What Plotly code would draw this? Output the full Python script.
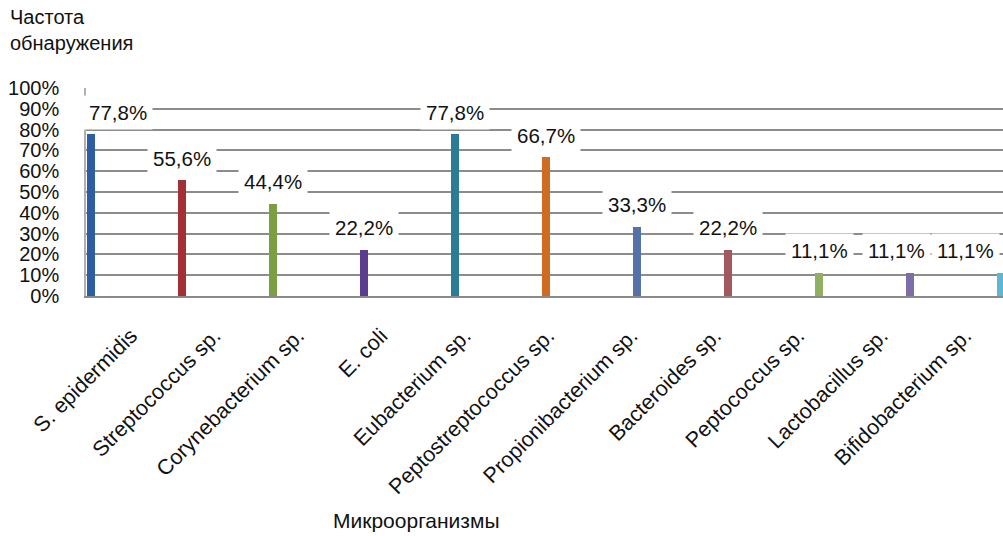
import plotly.graph_objects as go

# Detection frequency of microorganisms
organisms = [
    "S. epidermidis", "Streptococcus sp.", "Corynebacterium sp.", "E. coli",
    "Eubacterium sp.", "Peptostreptococcus sp.", "Propionibacterium sp.",
    "Bacteroides sp.", "Peptococcus sp.", "Lactobacillus sp.", "Bifidobacterium sp.",
]
frequency = [0.778, 0.556, 0.444, 0.222, 0.778, 0.667, 0.333, 0.222, 0.111, 0.111, 0.111]
bar_colors = [
    "#2d5da3", "#a33035", "#7a9f42", "#5b3d8f", "#2b7c97", "#d06b22",
    "#5272a8", "#a3585f", "#92b062", "#7d6ea8", "#5fb7cf",
]
y_ticks = [i / 10 for i in range(11)]

FONT = "Liberation Sans, Arial, Helvetica, sans-serif"
TXT = "#111111"
idx = list(range(len(organisms)))

fig = go.Figure()
fig.add_trace(go.Bar(
    x=idx, y=frequency, width=0.078,
    marker=dict(color=bar_colors, line=dict(width=0)),
    hoverinfo="skip", showlegend=False,
))

# value labels with white boxes over the gridlines; edge labels nudged inward
label_nudge = {0: 27, 9: -14, 10: -36}
for i, v in enumerate(frequency):
    fig.add_annotation(
        x=i, y=v, xref="x", yref="y",
        text=f"{v * 100:.1f}%".replace(".", ","),
        showarrow=False, yshift=22, xshift=label_nudge.get(i, 0),
        bgcolor="white", borderpad=5,
        font=dict(family=FONT, size=20.5, color=TXT),
    )

# axis titles
fig.add_annotation(
    x=-0.085, y=1.405, xref="paper", yref="paper", text="Частота<br>обнаружения",
    showarrow=False, xanchor="left", yanchor="top", align="left",
    font=dict(family=FONT, size=20, color=TXT),
)
fig.add_annotation(
    x=0.36, y=-1.077, xref="paper", yref="paper", text="Микроорганизмы",
    showarrow=False, xanchor="center", yanchor="middle",
    font=dict(family=FONT, size=21, color=TXT),
)

fig.update_layout(
    width=1003, height=536,
    margin=dict(l=86, r=0, t=88, b=240),
    paper_bgcolor="white", plot_bgcolor="white",
    bargap=0,
    font=dict(family=FONT, color=TXT),
    xaxis=dict(
        range=[-0.055, 10.022], showticklabels=False, showgrid=False,
        zeroline=False, showline=True, linecolor="#8a8a8a", linewidth=2,
        ticks="", fixedrange=True,
    ),
    xaxis2=dict(
        overlaying="x", anchor="y", side="bottom",
        range=[-0.54, 10.455], tickmode="array",
        tickvals=idx, ticktext=organisms, tickangle=-45,
        showgrid=False, zeroline=False, showline=False, ticks="",
        ticklabelstandoff=22,
        tickfont=dict(family=FONT, size=21.5, color=TXT),
    ),
    yaxis=dict(
        range=[0, 1.0], tickmode="array", tickvals=y_ticks, tickformat=".0%",
        showgrid=True, gridcolor="#8c8c8c", gridwidth=1.5,
        zeroline=False, showline=True, linecolor="#b0b0b0", linewidth=1.5,
        ticks="", ticklabelstandoff=21,
        tickfont=dict(family=FONT, size=20, color=TXT),
    ),
)

# invisible trace to activate the label axis
fig.add_trace(go.Scatter(x=idx, y=[None] * len(idx), xaxis="x2", yaxis="y",
                         showlegend=False, hoverinfo="skip"))

fig.write_html("out.html")
